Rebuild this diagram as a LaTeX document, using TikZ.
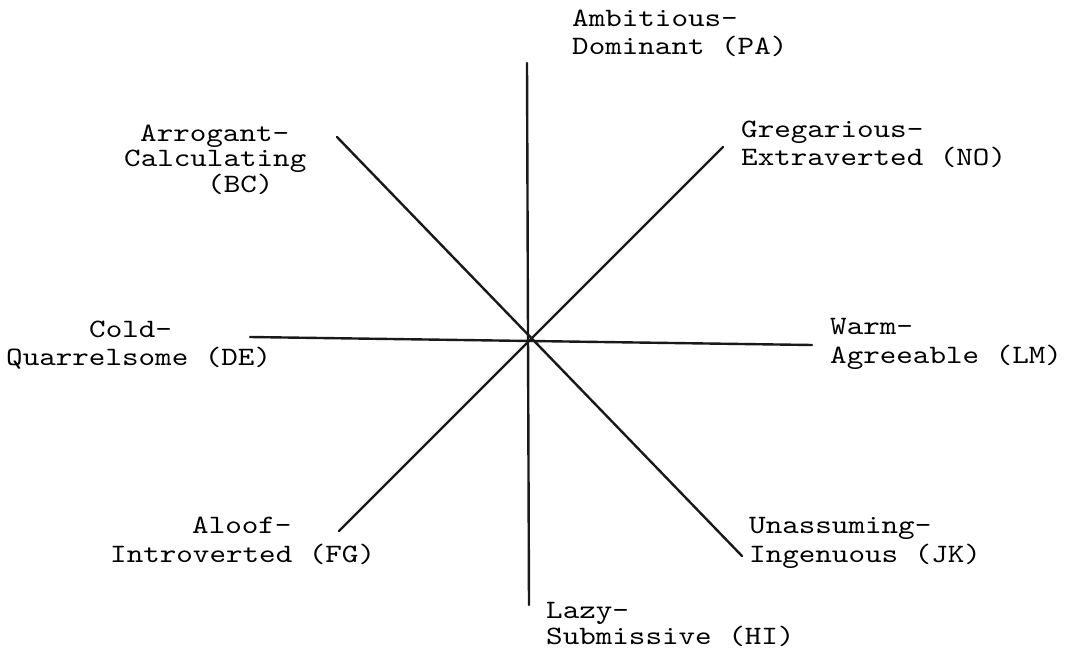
\documentclass[tikz,border=0pt]{standalone}
\usepackage{fontspec}
\setmonofont{lmmono10-regular.otf}[FakeStretch=1.19]
\begin{document}
\begin{tikzpicture}[x=1pt,y=-1pt,
  lbl/.style={anchor=base west, inner sep=0pt, font=\ttfamily\fontsize{26.5}{27}\selectfont},
  axis/.style={line width=2.4pt, line cap=round, black!90}]
\fill[white] (0,0) rectangle (1072,653);
\useasboundingbox (0,0) rectangle (1072,653);
% axis end points
\coordinate (n) at (527,63);
\coordinate (s) at (529,605);
\coordinate (w) at (250,337);
\coordinate (e) at (812,345);
\coordinate (nw) at (337,137);
\coordinate (se) at (742,556);
\coordinate (ne) at (723,147);
\coordinate (sw) at (339,531);
\draw[axis] (n) -- (s);
\draw[axis] (w) -- (e);
\draw[axis] (nw) -- (se);
\draw[axis] (ne) -- (sw);
% labels
\node[lbl] (pa1) at (572,27) {Ambitious-};
\node[lbl] (pa2) at (572,54) {Dominant (PA)};
\node[lbl] (bc1) at (140,141) {Arrogant-};
\node[lbl] (bc2) at (124,166) {Calculating};
\node[lbl] (bc3) at (207,192) {(BC)};
\node[lbl] (no1) at (741,137) {Gregarious-};
\node[lbl] (no2) at (741,165) {Extraverted (NO)};
\node[lbl] (de1) at (89,337) {Cold-};
\node[lbl] (de2) at (6,365) {Quarrelsome (DE)};
\node[lbl] (lm1) at (830,334) {Warm-};
\node[lbl] (lm2) at (830,363) {Agreeable (LM)};
\node[lbl] (fg1) at (192,533) {Aloof-};
\node[lbl] (fg2) at (110,562) {Introverted (FG)};
\node[lbl] (jk1) at (749,533) {Unassuming-};
\node[lbl] (jk2) at (749,562) {Ingenuous (JK)};
\node[lbl] (hi1) at (546,618) {Lazy-};
\node[lbl] (hi2) at (546,644) {Submissive (HI)};
\end{tikzpicture}
\end{document}
